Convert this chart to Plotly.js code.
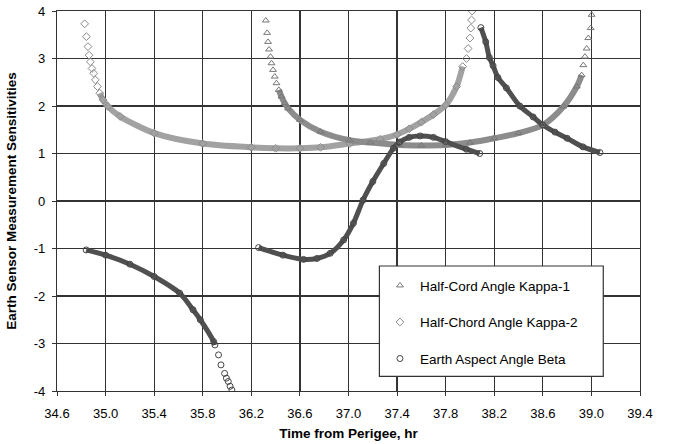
<!DOCTYPE html>
<html>
<head>
<meta charset="utf-8">
<script src="https://cdn.plot.ly/plotly-3.0.1.min.js"></script>
<style>
  html, body { margin: 0; padding: 0; background: #fff; }
  #chart { width: 675px; height: 444px; }
</style>
</head>
<body>
<div id="chart"></div>
<script>
// ---- Data ----
const seriesNames = ['Half-Cord Angle Kappa-1', 'Half-Chord Angle Kappa-2', 'Earth Aspect Angle Beta'];

// Half-Cord Angle Kappa-1 (one U-shaped branch)
const kappa1X = [36.319, 36.330, 36.338, 36.346, 36.358, 36.366, 36.379, 36.393, 36.407, 36.426, 36.448, 36.475, 36.503,
                 36.60, 36.77, 37.01, 37.18, 37.42, 37.60, 37.80, 38.00, 38.20, 38.40, 38.60, 38.77, 38.88, 38.92,
                 38.933, 38.947, 38.961, 38.974, 38.994, 39.002];
const kappa1Y = [3.80, 3.54, 3.35, 3.19, 3.04, 2.90, 2.76, 2.62, 2.48, 2.34, 2.20, 2.06, 1.95,
                 1.71, 1.46, 1.28, 1.23, 1.18, 1.17, 1.18, 1.23, 1.32, 1.43, 1.60, 1.99, 2.41, 2.65,
                 2.86, 3.04, 3.21, 3.43, 3.64, 3.92];

// Half-Chord Angle Kappa-2 (one U-shaped branch)
const kappa2X = [34.828, 34.842, 34.855, 34.864, 34.875, 34.888, 34.902, 34.916, 34.933, 34.952, 34.979, 35.02,
                 35.12, 35.40, 35.80, 36.20, 36.40, 36.60, 36.77, 37.01, 37.26, 37.40, 37.50, 37.60, 37.70, 37.80, 37.89, 37.94,
                 37.972, 37.985, 38.000, 38.007, 38.013, 38.018];
const kappa2Y = [3.73, 3.46, 3.25, 3.07, 2.93, 2.79, 2.69, 2.55, 2.41, 2.27, 2.13, 1.99,
                 1.78, 1.43, 1.21, 1.13, 1.11, 1.11, 1.13, 1.21, 1.30, 1.40, 1.52, 1.66, 1.82, 2.02, 2.41, 2.83,
                 3.00, 3.21, 3.43, 3.64, 3.81, 4.00];

// Earth Aspect Angle Beta (three branches)
const beta1X = [34.84, 35.00, 35.20, 35.40, 35.61, 35.72, 35.78, 35.89, 35.90, 35.93, 35.95, 35.98, 35.995, 36.01, 36.025, 36.04];
const beta1Y = [-1.03, -1.14, -1.33, -1.59, -1.94, -2.29, -2.50, -2.96, -3.03, -3.24, -3.45, -3.63, -3.73, -3.80, -3.90, -3.98];
const beta2X = [36.26, 36.46, 36.63, 36.74, 36.85, 36.96, 37.04, 37.12, 37.20, 37.29, 37.37, 37.42, 37.50, 37.59, 37.70, 37.80, 37.97, 38.08];
const beta2Y = [-0.98, -1.14, -1.23, -1.21, -1.10, -0.82, -0.47, 0.02, 0.41, 0.79, 1.11, 1.24, 1.34, 1.37, 1.34, 1.25, 1.09, 1.00];
const beta3X = [38.09, 38.13, 38.16, 38.19, 38.23, 38.30, 38.41, 38.52, 38.60, 38.70, 38.80, 38.93, 39.07];
const beta3Y = [3.65, 3.35, 3.02, 2.85, 2.60, 2.38, 2.00, 1.77, 1.60, 1.45, 1.32, 1.14, 1.02];

const xTicks = [34.6, 35.0, 35.4, 35.8, 36.2, 36.6, 37.0, 37.4, 37.8, 38.2, 38.6, 39.0, 39.4];
const yTicks = [-4, -3, -2, -1, 0, 1, 2, 3, 4];

// ---- Styling ----
const FONT = 'Liberation Sans, Arial, sans-serif';
const k1Color = '#8c8c8c', k2Color = '#a2a2a2', bColor = '#505050';

// band index ranges (where markers overlap into a continuous band)
function band(xs, ys, i0, i1) { return { x: xs.slice(i0, i1 + 1), y: ys.slice(i0, i1 + 1) }; }
const k1Band = band(kappa1X, kappa1Y, 9, 26);
const k2Band = band(kappa2X, kappa2Y, 9, 27);
const b1Band = band(beta1X, beta1Y, 0, 8);

const join = (a, b, c) => a.concat([null], b, [null], c);
const betaX = join(beta1X, beta2X, beta3X);
const betaY = join(beta1Y, beta2Y, beta3Y);

function bandTrace(d, color, width, group) {
  return { x: d.x, y: d.y, type: 'scatter', mode: 'lines', legendgroup: group, showlegend: false,
           line: { color: color, width: width, shape: 'spline', smoothing: 0.8 }, hoverinfo: 'skip' };
}

const traces = [
  bandTrace(k2Band, k2Color, 6, 'k2'),
  bandTrace(k1Band, k1Color, 6, 'k1'),
  bandTrace(b1Band, bColor, 5, 'b'),
  bandTrace({ x: beta2X, y: beta2Y }, bColor, 5, 'b'),
  bandTrace({ x: beta3X, y: beta3Y }, bColor, 5, 'b'),
  { x: kappa1X, y: kappa1Y, name: seriesNames[0], type: 'scatter', mode: 'markers', legendgroup: 'k1',
    marker: { symbol: 'triangle-up-open', size: 6, color: '#777', line: { width: 1 } } },
  { x: kappa2X, y: kappa2Y, name: seriesNames[1], type: 'scatter', mode: 'markers', legendgroup: 'k2',
    marker: { symbol: 'diamond-open', size: 6, color: '#8a8a8a', line: { width: 1 } } },
  { x: betaX, y: betaY, name: seriesNames[2], type: 'scatter', mode: 'markers', legendgroup: 'b',
    marker: { symbol: 'circle-open', size: 6, color: '#444', line: { width: 1 } } }
];

const axisCommon = {
  showgrid: true, gridcolor: '#333', gridwidth: 1.2,
  showline: true, linecolor: '#333', linewidth: 1.2, mirror: true,
  ticks: 'outside', ticklen: 4, tickcolor: '#333', tickwidth: 1,
  zeroline: false,
  tickfont: { family: FONT, size: 13, color: '#000' }
};

const layout = {
  width: 675, height: 444,
  margin: { l: 57, r: 35, t: 11, b: 53 },
  paper_bgcolor: '#fff', plot_bgcolor: '#fff',
  font: { family: FONT, color: '#000' },
  xaxis: Object.assign({}, axisCommon, {
    range: [34.6, 39.4], tickmode: 'array', tickvals: xTicks, ticktext: xTicks.map(v => v.toFixed(1)),
    ticklabelstandoff: 6,
    title: { text: '<b>Time from Perigee, hr</b>', font: { family: FONT, size: 13.5, color: '#000' }, standoff: 8 }
  }),
  yaxis: Object.assign({}, axisCommon, {
    range: [-4, 4], tickmode: 'array', tickvals: yTicks, ticktext: yTicks.map(String),
    ticklabelstandoff: 4,
    title: { text: '<b>Earth Sensor Measurement Sensitivities</b>', font: { family: FONT, size: 13.5, color: '#000' }, standoff: 14 }
  }),
  showlegend: true,
  legend: {
    x: 0.554, y: 0.318, xanchor: 'left', yanchor: 'top',
    bgcolor: 'rgba(0,0,0,0)', borderwidth: 0,
    traceorder: 'grouped', tracegroupgap: 16,
    font: { family: FONT, size: 13.5, color: '#000' }
  },
  shapes: [{
    type: 'rect', xref: 'paper', yref: 'paper', x0: 0.553, x1: 0.937, y0: 0.0387, y1: 0.329,
    fillcolor: '#fff', line: { color: '#333', width: 1.2 }, layer: 'above'
  }]
};

Plotly.newPlot('chart', traces, layout, { displayModeBar: false, staticPlot: true });
</script>
</body>
</html>
